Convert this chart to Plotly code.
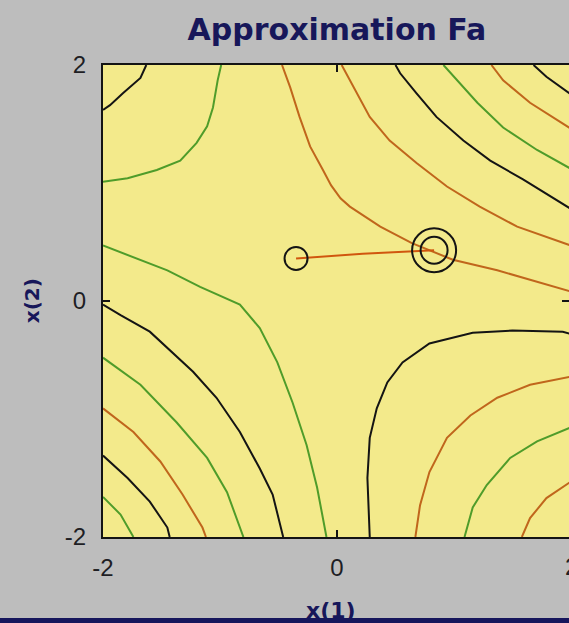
import plotly.graph_objects as go

# ---- text -------------------------------------------------------------
title_text = "Approximation Fa"
x_label = "x(1)"
y_label = "x(2)"
x_tick_vals = [-2, 0, 2]
x_tick_text = ["-2", "0", "2"]
y_tick_vals = [-2, 0, 2]
y_tick_text = ["-2", "0", "2"]

# ---- contour lines (data units) ----------------------------------------
# black level lines
blk_a_x = [-1.63, -1.68, -1.83, -1.94, -2.0]
blk_a_y = [2.0, 1.89, 1.76, 1.66, 1.62]
blk_e_x = [0.50, 0.54, 0.68, 0.85, 1.08, 1.31, 1.59, 2.0]
blk_e_y = [2.0, 1.93, 1.76, 1.56, 1.36, 1.19, 1.03, 0.78]
blk_h_x = [1.68, 1.79, 2.0]
blk_h_y = [2.0, 1.90, 1.75]
blk_i_x = [2.0, 1.93, 1.50, 1.16, 0.79, 0.56, 0.43, 0.34, 0.28, 0.26, 0.28]
blk_i_y = [-0.28, -0.26, -0.25, -0.27, -0.36, -0.52, -0.69, -0.91, -1.16, -1.50, -2.0]
blk_n_x = [-2.0, -1.85, -1.60, -1.23, -1.03, -0.83, -0.66, -0.55, -0.46]
blk_n_y = [-0.03, -0.12, -0.26, -0.60, -0.82, -1.11, -1.42, -1.64, -2.0]
blk_q_x = [-2.0, -1.79, -1.60, -1.45, -1.43]
blk_q_y = [-1.31, -1.50, -1.70, -1.92, -2.0]

# orange level lines
org_c_x = [-0.47, -0.40, -0.32, -0.23, -0.12, -0.05, 0.03, 0.11, 0.37, 0.64, 0.99, 1.37, 2.0]
org_c_y = [2.0, 1.81, 1.56, 1.31, 1.11, 0.98, 0.87, 0.80, 0.63, 0.49, 0.35, 0.26, 0.08]
org_d_x = [0.04, 0.17, 0.28, 0.45, 0.68, 0.94, 1.22, 1.54, 2.0]
org_d_y = [2.0, 1.76, 1.56, 1.36, 1.17, 0.97, 0.80, 0.63, 0.47]
org_g_x = [1.32, 1.42, 1.65, 2.0]
org_g_y = [2.0, 1.87, 1.68, 1.46]
org_j_x = [2.0, 1.65, 1.37, 1.14, 0.94, 0.79, 0.71, 0.67]
org_j_y = [-0.64, -0.71, -0.82, -0.97, -1.16, -1.45, -1.73, -2.0]
org_l_x = [2.0, 1.79, 1.65, 1.58]
org_l_y = [-1.53, -1.67, -1.84, -2.0]
org_p_x = [-2.0, -1.74, -1.51, -1.32, -1.15, -1.12]
org_p_y = [-0.91, -1.11, -1.36, -1.64, -1.92, -2.0]

# green level lines
grn_b_x = [-0.99, -1.02, -1.06, -1.11, -1.20, -1.34, -1.54, -1.79, -2.0]
grn_b_y = [2.0, 1.87, 1.64, 1.48, 1.34, 1.19, 1.11, 1.04, 1.01]
grn_f_x = [0.91, 1.03, 1.20, 1.42, 1.71, 2.0]
grn_f_y = [2.0, 1.87, 1.68, 1.47, 1.28, 1.12]
grn_k_x = [2.0, 1.71, 1.48, 1.28, 1.16, 1.09]
grn_k_y = [-1.07, -1.19, -1.33, -1.56, -1.75, -2.0]
grn_m_x = [-2.0, -1.74, -1.45, -1.17, -0.97, -0.83, -0.66, -0.51, -0.38, -0.26, -0.17, -0.09]
grn_m_y = [0.47, 0.37, 0.26, 0.12, 0.03, -0.03, -0.23, -0.52, -0.86, -1.22, -1.58, -2.0]
grn_o_x = [-2.0, -1.68, -1.37, -1.11, -0.94, -0.80]
grn_o_y = [-0.48, -0.71, -1.03, -1.33, -1.62, -2.0]
grn_r_x = [-2.0, -1.85, -1.74]
grn_r_y = [-1.66, -1.81, -2.0]

# optimisation path: start point -> end point
path_x = [-0.35, 0.22, 0.83]
path_y = [0.36, 0.40, 0.43]

# ---- styles ------------------------------------------------------------
BLACK = "#141414"
ORANGE = "#c0661c"
GREEN = "#4f9c2a"
PATH = "#d0560e"
NAVY = "#17175a"
TICK_FONT = dict(family="Liberation Sans, Arial, sans-serif", size=24, color="#1e1e24")

fig = go.Figure()

groups = [
    (BLACK, [(blk_a_x, blk_a_y), (blk_e_x, blk_e_y), (blk_h_x, blk_h_y),
             (blk_i_x, blk_i_y), (blk_n_x, blk_n_y), (blk_q_x, blk_q_y)]),
    (ORANGE, [(org_c_x, org_c_y), (org_d_x, org_d_y), (org_g_x, org_g_y),
              (org_j_x, org_j_y), (org_l_x, org_l_y), (org_p_x, org_p_y)]),
    (GREEN, [(grn_b_x, grn_b_y), (grn_f_x, grn_f_y), (grn_k_x, grn_k_y),
             (grn_m_x, grn_m_y), (grn_o_x, grn_o_y), (grn_r_x, grn_r_y)]),
]
for color, lines in groups:
    for lx, ly in lines:
        fig.add_trace(go.Scatter(x=lx, y=ly, mode="lines",
                                 line=dict(color=color, width=2),
                                 hoverinfo="skip", showlegend=False))

# path
fig.add_trace(go.Scatter(x=path_x, y=path_y, mode="lines",
                         line=dict(color=PATH, width=2),
                         hoverinfo="skip", showlegend=False))
# start marker and end marker (double ring)
for px, py, size in [(path_x[0], path_y[0], 23),
                     (path_x[-1], path_y[-1], 44),
                     (path_x[-1], path_y[-1], 27)]:
    fig.add_trace(go.Scatter(x=[px], y=[py], mode="markers",
                             marker=dict(symbol="circle-open", size=size,
                                         color=BLACK, opacity=1,
                                         line=dict(color=BLACK, width=2)),
                             hoverinfo="skip", showlegend=False))

# invisible trace carrying the right-hand tick axis
fig.add_trace(go.Scatter(x=[0], y=[0], yaxis="y2", mode="markers",
                         marker=dict(size=1, opacity=0),
                         hoverinfo="skip", showlegend=False))

fig.update_layout(
    width=569, height=623,
    margin=dict(l=103, r=0, t=65, b=86),
    paper_bgcolor="#bdbdbd",
    plot_bgcolor="#f3ea8b",
    title=dict(text=title_text, x=0.502, xref="paper", y=0.952, yref="container",
               xanchor="center", yanchor="middle",
               font=dict(family="DejaVu Sans", size=30, color=NAVY, weight=700)),
    xaxis=dict(range=[-2, 1.983], tickvals=x_tick_vals, ticktext=x_tick_text,
               showline=True, linecolor=BLACK, linewidth=2, mirror="ticks",
               ticks="inside", ticklen=7, tickcolor=BLACK, tickwidth=2,
               ticklabelstandoff=8,
               showgrid=False, zeroline=False, tickfont=TICK_FONT),
    yaxis=dict(range=[-2, 2], tickvals=y_tick_vals, ticktext=y_tick_text,
               showline=True, linecolor=BLACK, linewidth=2,
               ticks="inside", ticklen=7, tickcolor=BLACK, tickwidth=2,
               ticklabelstandoff=10,
               showgrid=False, zeroline=False, tickfont=TICK_FONT),
    yaxis2=dict(range=[-2, 2], tickvals=y_tick_vals, overlaying="y", side="right",
                showline=False, showticklabels=False,
                ticks="inside", ticklen=7, tickcolor=BLACK, tickwidth=2,
                showgrid=False, zeroline=False),
    annotations=[
        dict(text=y_label, xref="paper", yref="paper", x=-0.152, y=0.5,
             xanchor="center", yanchor="middle",
             textangle=-90, showarrow=False,
             font=dict(family="DejaVu Sans", size=20, color=NAVY, weight=700)),
        dict(text=x_label, xref="paper", yref="paper", x=0.49, y=-0.125,
             xanchor="center", yanchor="top", showarrow=False,
             font=dict(family="DejaVu Sans", size=22, color=NAVY, weight=700)),
        dict(text=x_tick_text[-1], xref="paper", yref="paper", x=1.0043, y=0,
             xanchor="center", yanchor="top", yshift=-14, showarrow=False,
             font=TICK_FONT),
    ],
    shapes=[
        dict(type="rect", xref="paper", yref="paper", x0=-0.25, x1=1.05,
             y0=-0.1716, y1=-0.20, fillcolor="#16165c", line=dict(width=0),
             layer="above"),
    ],
)

fig.write_html("out.html", config={"displayModeBar": False},
               post_script="document.body.style.margin='0';"
                           "document.body.style.overflow='hidden';")
